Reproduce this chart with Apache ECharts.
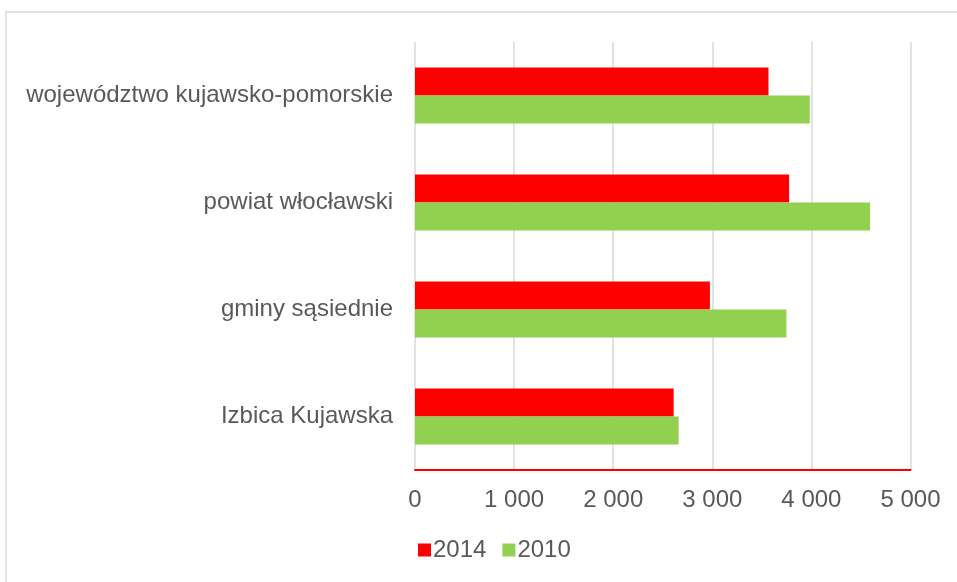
<!DOCTYPE html>
<html>
<head>
<meta charset="utf-8">
<script src="https://cdn.jsdelivr.net/npm/echarts@6/dist/echarts.min.js"></script>
<style>
  html, body { margin: 0; padding: 0; background: #fff; }
  #main { width: 957px; height: 582px; }
</style>
</head>
<body>
<div id="main"></div>
<script>
// categories from bottom to top
var categories = ['Izbica Kujawska', 'gminy sąsiednie', 'powiat włocławski', 'województwo kujawsko-pomorskie'];
var values2014 = [2610, 2976, 3775, 3567];
var values2010 = [2660, 3748, 4592, 3984];
var seriesNames = ['2014', '2010'];
var xTicks = [0, 1000, 2000, 3000, 4000, 5000];

var textColor = '#595959';
var font = '"Liberation Sans", Arial, sans-serif';

function fmt(v) {
  return String(v).replace(/\B(?=(\d{3})+(?!\d))/g, ' ');
}

var chart = echarts.init(document.getElementById('main'));

var option = {
  animation: false,
  textStyle: { fontFamily: font },
  graphic: [
    {
      type: 'polyline',
      shape: { points: [[6, 582], [6, 12], [957, 12]] },
      style: { stroke: '#d9d9d9', lineWidth: 1.5, fill: null }
    }
  ],
  legend: {
    left: 413,
    top: 533,
    itemWidth: 13,
    itemHeight: 13,
    itemGap: 16,
    icon: 'rect',
    textStyle: { color: textColor, fontSize: 24, fontFamily: font, padding: [0, 0, 0, -3] },
    data: seriesNames
  },
  grid: {
    left: 415,
    right: 46.5,
    top: 42,
    bottom: 112
  },
  xAxis: {
    type: 'value',
    min: xTicks[0],
    max: xTicks[xTicks.length - 1],
    interval: 1000,
    axisLine: { show: true, lineStyle: { color: '#ff0000', width: 2 } },
    axisTick: { show: false },
    splitLine: { show: true, lineStyle: { color: '#d9d9d9', width: 1.5 } },
    axisLabel: {
      color: textColor,
      fontSize: 24,
      fontFamily: font,
      margin: 18,
      formatter: fmt
    }
  },
  yAxis: {
    type: 'category',
    data: categories,
    axisLine: { show: false },
    axisTick: { show: false },
    axisLabel: {
      color: textColor,
      fontSize: 24,
      fontFamily: font,
      margin: 22,
      padding: [6, 0, 0, 0]
    }
  },
  series: [
    {
      name: seriesNames[0],
      type: 'bar',
      data: values2014,
      barWidth: 28,
      barGap: '0%',
      itemStyle: { color: '#ff0000' }
    },
    {
      name: seriesNames[1],
      type: 'bar',
      data: values2010,
      barWidth: 28,
      barGap: '0%',
      itemStyle: { color: '#92d050' }
    }
  ]
};

chart.setOption(option);
</script>
</body>
</html>
